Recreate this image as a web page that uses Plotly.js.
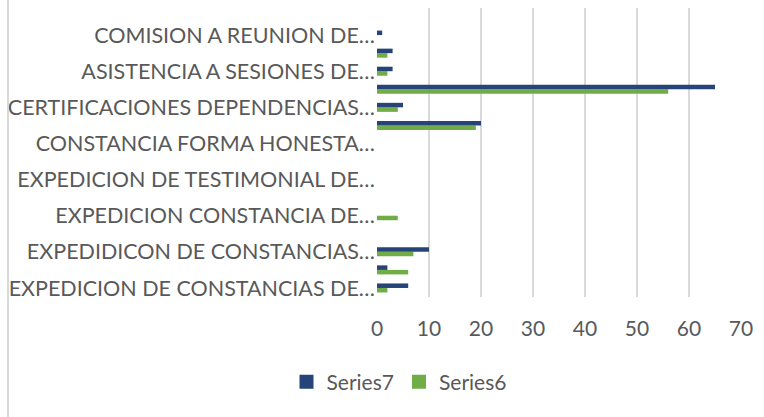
<!DOCTYPE html>
<html>
<head>
<meta charset="utf-8">
<script src="https://cdn.plot.ly/plotly-3.0.1.min.js"></script>
<style>
  html, body { margin: 0; padding: 0; background: #ffffff; }
  #chart { width: 764px; height: 417px; }
</style>
</head>
<body>
<div id="chart"></div>
<script>
// Categories from bottom to top (Excel shows every other label; hidden ones left blank)
const categories = [
  "EXPEDICION DE CONSTANCIAS DE…",
  "",
  "EXPEDIDICON DE CONSTANCIAS…",
  "",
  "EXPEDICION CONSTANCIA DE…",
  "",
  "EXPEDICION DE TESTIMONIAL DE…",
  "",
  "CONSTANCIA FORMA HONESTA…",
  "",
  "CERTIFICACIONES DEPENDENCIAS…",
  "",
  "ASISTENCIA A SESIONES DE…",
  "",
  "COMISION A REUNION DE…",
  ""
];
const series7 = [6, 2, 10, 0, 0, 0, 0, 0, 0, 20, 5, 65, 3, 3, 1, 0];
const series6 = [2, 6, 7, 0, 4, 0, 0, 0, 0, 19, 4, 56, 2, 2, 0, 0];
const xTicks = [0, 10, 20, 30, 40, 50, 60, 70];
const seriesNames = ["Series6", "Series7"];
const seriesColors = ["#70AD47", "#264478"];

const positions = categories.map((c, i) => i + 1);

const W = 764, H = 417;
const M = { l: 377, r: 23, t: 8, b: 120 };
const plotW = W - M.l - M.r, plotH = H - M.t - M.b;
const FONT = "Lato, 'Open Sans', sans-serif";
const TXT = "#595959";
const FS = 21.5;

const traces = [
  {
    type: "bar", orientation: "h", name: seriesNames[0],
    y: positions, x: series6,
    marker: { color: seriesColors[0] },
    showlegend: false, legendgroup: "s6",
    hoverinfo: "x+name"
  },
  {
    type: "bar", orientation: "h", name: seriesNames[1],
    y: positions, x: series7,
    marker: { color: seriesColors[1] },
    showlegend: false, legendgroup: "s7",
    hoverinfo: "x+name"
  },
  // legend keys (larger square swatches like Excel)
  {
    type: "scatter", mode: "markers", name: seriesNames[0],
    x: [null], y: [null], legendgroup: "s6",
    marker: { symbol: "square", size: 12, color: seriesColors[0],
              line: { color: seriesColors[0], width: 2 } }
  },
  {
    type: "scatter", mode: "markers", name: seriesNames[1],
    x: [null], y: [null], legendgroup: "s7",
    marker: { symbol: "square", size: 12, color: seriesColors[1],
              line: { color: seriesColors[1], width: 2 } }
  }
];

const layout = {
  width: W, height: H,
  margin: M,
  paper_bgcolor: "#ffffff",
  plot_bgcolor: "#ffffff",
  font: { family: FONT, color: TXT, size: FS },
  barmode: "group",
  bargap: 0.5,
  bargroupgap: 0,
  xaxis: {
    range: [0, 70],
    tickvals: xTicks,
    showgrid: true, gridcolor: "#d9d9d9", gridwidth: 2,
    zeroline: false, showline: false, ticks: "",
    tickfont: { family: FONT, color: TXT, size: 21 },
    ticklabelstandoff: 17,
    fixedrange: true
  },
  yaxis: {
    range: [0.5, categories.length + 0.5],
    tickvals: positions,
    ticktext: categories,
    showgrid: false, zeroline: false, showline: false, ticks: "",
    tickfont: { family: FONT, color: TXT, size: FS },
    ticklabelstandoff: 1,
    fixedrange: true
  },
  showlegend: true,
  legend: {
    orientation: "h",
    traceorder: "reversed",
    x: (399 - M.l) / plotW, xanchor: "center",
    y: (H - M.b - 382) / plotH, yanchor: "middle",
    font: { family: FONT, color: TXT, size: 21 },
    itemwidth: 30,
    bgcolor: "rgba(0,0,0,0)"
  },
  shapes: [
    {
      type: "line", xref: "paper", yref: "paper",
      x0: (8 - M.l) / plotW, x1: (8 - M.l) / plotW,
      y0: -M.b / plotH, y1: 1 + M.t / plotH,
      line: { color: "#d9d9d9", width: 2 }
    }
  ]
};

Plotly.newPlot("chart", traces, layout, { displayModeBar: false, staticPlot: true });
</script>
</body>
</html>
